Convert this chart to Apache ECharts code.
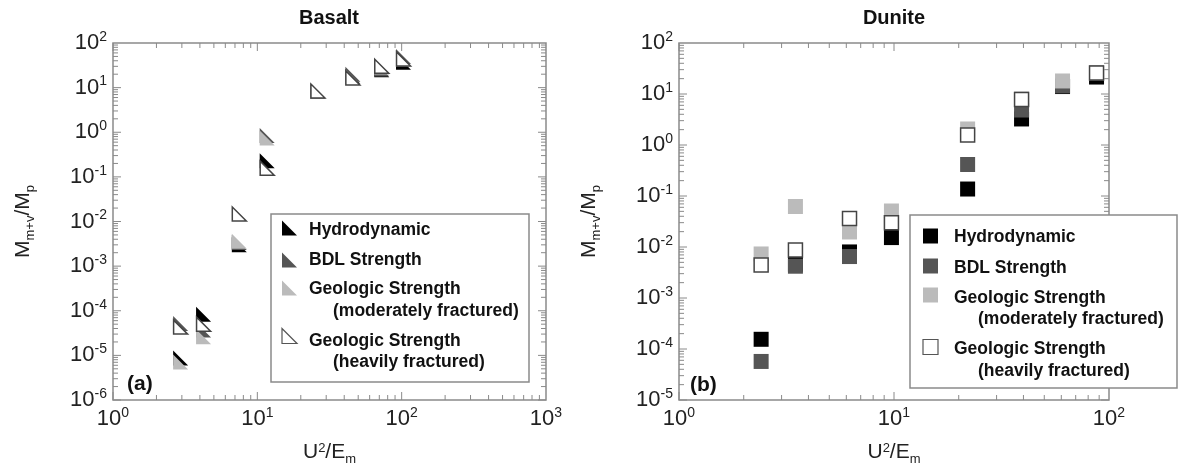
<!DOCTYPE html>
<html>
<meta charset="UTF-8">
<title>basalt-dunite</title>
<style type="text/css">
    html,
    body {
        margin: 0px;
        width: 100%;
        height: 100%;
        background: #ffffff;
    }

    #chart {
        width: 1178px;
        height: 472px;
    }
</style>
<script src="https://cdn.jsdelivr.net/npm/echarts@6.0.0/dist/echarts.min.js"></script>

<body>
    <div id="chart"></div>
    <script>
        const seriesNames = ['Hydrodynamic', 'BDL Strength', 'Geologic Strength (moderately fractured)', 'Geologic Strength (heavily fractured)'];

        // Basalt (a)
        const basaltX = [2.94, 4.24, 7.5, 11.7, 26.3, 45.9, 72.8, 103];
        const basaltHydro = [8.7e-6, 8.4e-5, 0.0030, 0.23, 8.4, 18, 25, 37];
        const basaltBDL = [5.2e-5, 3.7e-5, 0.0034, 0.85, 8.4, 20, 26, 50];
        const basaltModerate = [7.1e-6, 2.6e-5, 0.0036, 0.74, 8.4, 17, 29, 44];
        const basaltHeavy = [4.3e-5, 5.0e-5, 0.0147, 0.157, 8.4, 16.4, 30, 44];

        // Dunite (b)
        const duniteX = [2.41, 3.48, 6.21, 9.73, 22.0, 39.2, 60.8, 87.5];
        const duniteHydro = [1.55e-4, 0.0046, 0.008, 0.0153, 0.137, 3.24, 14.0, 21.5];
        const duniteBDL = [5.7e-5, 0.0042, 0.0065, 0.031, 0.415, 4.85, 14.4, 26];
        const duniteModerate = [0.0073, 0.0622, 0.0197, 0.0508, 2.06, 8.0, 18.0, 26];
        const duniteHeavy = [0.00444, 0.0087, 0.0362, 0.030, 1.57, 7.8, null, 25.8];

        // axis ranges as exponents
        const basaltXExp = [0, 3];
        const basaltYExp = [-6, 2];
        const duniteXExp = [0, 2];
        const duniteYExp = [-5, 2];

        const FONT = '"Liberation Sans", Arial, sans-serif';
        const fills = ['#000000', '#555555', '#bbbbbb', '#ffffff'];
        const TRI = 'path://M0,0L0,10L10,10Z';
        const frameColor = '#8a8a8a';

        const powRich = {
            b: { fontSize: 22, lineHeight: 26, fontFamily: FONT, color: '#222' },
            s: { fontSize: 14, lineHeight: 14, verticalAlign: 'top', fontFamily: FONT, color: '#222' }
        };
        const powLabel = v => '{b|10}{s|' + Math.round(Math.log10(v)) + '}';

        const nameRich = {
            m: { fontSize: 21, lineHeight: 24, verticalAlign: 'top', fontFamily: FONT, color: '#222' },
            sub: { fontSize: 13, lineHeight: 14, padding: [18, 0, 0, 0], verticalAlign: 'bottom', fontFamily: FONT, color: '#222' },
            sup: { fontSize: 13, lineHeight: 14, verticalAlign: 'top', fontFamily: FONT, color: '#222' }
        };

        function xAxis(idx, ex) {
            return {
                type: 'log', logBase: 10, gridIndex: idx,
                min: Math.pow(10, ex[0]), max: Math.pow(10, ex[1]),
                axisLine: { show: false }, axisTick: { show: false }, splitLine: { show: false },
                axisLabel: { formatter: powLabel, rich: powRich, margin: 6, showMinLabel: true, showMaxLabel: true },
                name: '{m|U}{sup|2}{m|/E}{sub|m}', nameLocation: 'middle', nameGap: 41,
                nameTextStyle: { rich: nameRich }
            };
        }

        function yAxis(idx, ex, gap) {
            return {
                type: 'log', logBase: 10, gridIndex: idx,
                min: Math.pow(10, ex[0]), max: Math.pow(10, ex[1]),
                axisLine: { show: false }, axisTick: { show: false }, splitLine: { show: false },
                axisLabel: { formatter: powLabel, rich: powRich, margin: 6, showMinLabel: true, showMaxLabel: true },
                name: '{m|M}{sub|m+v}{m|/M}{sub|p}', nameLocation: 'middle', nameGap: gap, nameRotate: 90,
                nameTextStyle: { rich: nameRich }
            };
        }

        function scatter(idx, xs, ys, k, symbol) {
            const open = k === 3;
            return {
                type: 'scatter', name: seriesNames[k], xAxisIndex: idx, yAxisIndex: idx,
                symbol: symbol, symbolSize: open ? 14 : 15,
                data: xs.map((x, i) => [x, ys[i]]).filter(d => d[1] != null),
                itemStyle: { color: fills[k], borderColor: open ? '#444' : fills[k], borderWidth: open ? 1.5 : 0, opacity: 1 },
                emphasis: { disabled: true },
                z: 2
            };
        }

        // major + minor log ticks on all four sides of a grid
        function tickSeries(idx, xe, ye) {
            return {
                type: 'custom', xAxisIndex: idx, yAxisIndex: idx, silent: true, clip: false, z: 3,
                data: [[Math.pow(10, xe[0]), Math.pow(10, ye[0])]],
                renderItem: function (params, api) {
                    const cs = params.coordSys;
                    const l = cs.x, r = cs.x + cs.width, t = cs.y, b = cs.y + cs.height;
                    const kids = [];
                    const line = (x1, y1, x2, y2) => kids.push({
                        type: 'line', shape: { x1: x1, y1: y1, x2: x2, y2: y2 },
                        style: { stroke: frameColor, lineWidth: 1 }
                    });
                    for (let e = xe[0]; e < xe[1]; e++) {
                        for (let k = 1; k <= 9; k++) {
                            const len = k === 1 ? 8 : 5;
                            const px = api.coord([k * Math.pow(10, e), Math.pow(10, ye[0])])[0];
                            line(px, b, px, b - len);
                            line(px, t, px, t + len);
                        }
                    }
                    for (let e = ye[0]; e < ye[1]; e++) {
                        for (let k = 1; k <= 9; k++) {
                            const len = k === 1 ? 8 : 5;
                            const py = api.coord([Math.pow(10, xe[0]), k * Math.pow(10, e)])[1];
                            line(l, py, l + len, py);
                            line(r, py, r - len, py);
                        }
                    }
                    return { type: 'group', children: kids };
                }
            };
        }

        function legendGraphic(box, symX, textX, indentX, symY, textY, square) {
            const out = [{
                type: 'rect', shape: { x: box[0], y: box[1], width: box[2], height: box[3] },
                style: { fill: '#fff', stroke: frameColor, lineWidth: 1.5 }, z: 10
            }];
            for (let k = 0; k < 4; k++) {
                const y = symY[k];
                const style = { fill: fills[k], stroke: k === 3 ? '#555' : null, lineWidth: k === 3 ? 1.2 : 0 };
                if (square) {
                    out.push({ type: 'rect', shape: { x: symX, y: y - 7.5, width: 15, height: 15 }, style: style, z: 11 });
                } else {
                    out.push({ type: 'polygon', shape: { points: [[symX, y - 7.5], [symX, y + 7.5], [symX + 15, y + 7.5]] }, style: style, z: 11 });
                }
            }
            const lines = [
                ['Hydrodynamic', textX, textY[0]],
                ['BDL Strength', textX, textY[1]],
                ['Geologic Strength', textX, textY[2]],
                ['(moderately fractured)', indentX, textY[3]],
                ['Geologic Strength', textX, textY[4]],
                ['(heavily fractured)', indentX, textY[5]]
            ];
            lines.forEach(ln => out.push({
                type: 'text', x: ln[1], y: ln[2], z: 11,
                style: { text: ln[0], font: 'bold 17.5px ' + FONT, fill: '#111', verticalAlign: 'middle' }
            }));
            return out;
        }

        const chart = echarts.init(document.querySelector('#chart'));
        const gridStyle = { show: true, borderColor: frameColor, borderWidth: 1.5, backgroundColor: 'transparent' };
        const option = {
            animation: false,
            grid: [
                Object.assign({ left: 113, top: 43, width: 433, height: 357 }, gridStyle),
                Object.assign({ left: 679, top: 43, width: 430, height: 357 }, gridStyle)
            ],
            xAxis: [xAxis(0, basaltXExp), xAxis(1, duniteXExp)],
            yAxis: [yAxis(0, basaltYExp, 76), yAxis(1, duniteYExp, 76)],
            series: [
                scatter(0, basaltX, basaltHydro, 0, TRI),
                scatter(0, basaltX, basaltBDL, 1, TRI),
                scatter(0, basaltX, basaltModerate, 2, TRI),
                scatter(0, basaltX, basaltHeavy, 3, TRI),
                scatter(1, duniteX, duniteHydro, 0, 'rect'),
                scatter(1, duniteX, duniteBDL, 1, 'rect'),
                scatter(1, duniteX, duniteModerate, 2, 'rect'),
                scatter(1, duniteX, duniteHeavy, 3, 'rect'),
                tickSeries(0, basaltXExp, basaltYExp),
                tickSeries(1, duniteXExp, duniteYExp)
            ],
            graphic: [
                { type: 'text', x: 329, y: 18, style: { text: 'Basalt', font: 'bold 20px ' + FONT, fill: '#111', align: 'center', verticalAlign: 'middle' } },
                { type: 'text', x: 894, y: 18, style: { text: 'Dunite', font: 'bold 20px ' + FONT, fill: '#111', align: 'center', verticalAlign: 'middle' } },
                { type: 'text', x: 127, y: 384, style: { text: '(a)', font: 'bold 21px ' + FONT, fill: '#111', verticalAlign: 'middle' } },
                { type: 'text', x: 690, y: 385, style: { text: '(b)', font: 'bold 21px ' + FONT, fill: '#111', verticalAlign: 'middle' } }
            ]
                .concat(legendGraphic([271, 214, 258, 168], 282, 309, 333, [228, 260, 288, 336], [230, 260, 289, 311, 341, 362], false))
                .concat(legendGraphic([910, 215, 267, 173], 923, 954, 978, [236, 266, 295, 347], [237, 268, 298, 319, 349, 371], true))
        };
        chart.setOption(option);
    </script>
</body>

</html>
